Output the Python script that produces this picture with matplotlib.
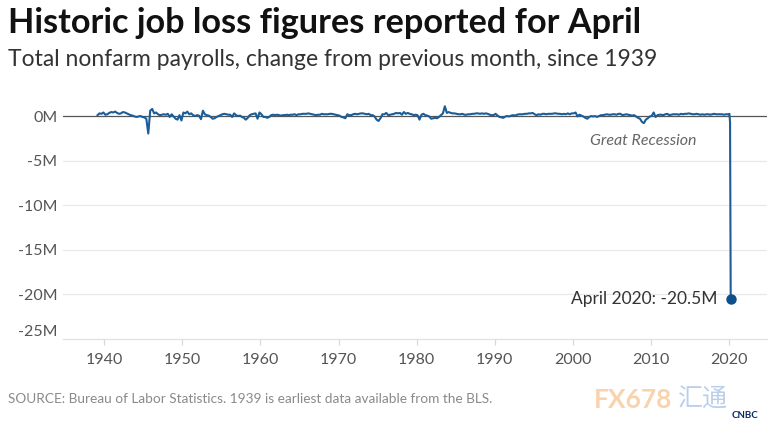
import numpy as np
import matplotlib
matplotlib.use("Agg")
import matplotlib.pyplot as plt

# Monthly change in nonfarm payrolls (thousands)
# one value per quarter, 1939 through 2019
start_year = 1939
quarterly_change = [
    100, 300, 250, 400,      # 1939
    150, 200, 350, 450,
    400, 500, 350, 250,
    300, 450, 400, 300,
    200, 100, 50, -50,
    -100, -50, 0, -100,      # 1944
    -150, -300, -1960, 600,  # 1945
    800, 300, 400, 200,
    100, 150, 200, 150,
    250, -100, 200, -50,
    -300, -400, 100, -500,   # 1949
    400, 300, 500, 200,      # 1950
    300, 100, 0, 100,
    50, -350, 600, 200,
    100, 50, -100, -300,
    -250, -100, 0, 100,
    200, 250, 200, 150,
    150, -100, 300, 100,
    0, 50, -100, -200,
    -400, -200, 100, 200,
    250, 300, -300, 400,     # 1959
    200, -100, -100, -200,   # 1960
    -100, 100, 150, 100,
    150, 100, 50, 100,
    100, 150, 100, 150,
    150, 200, 100, 200,
    200, 250, 250, 250,
    300, 250, 200, 150,
    100, 150, 150, 250,
    200, 200, 200, 250,
    250, 200, 150, 100,      # 1969
    50, -100, -150, -250,    # 1970
    200, 100, 100, 200,
    250, 200, 250, 300,
    300, 250, 200, 250,
    100, 100, -50, -400,
    -550, -250, 200, 200,
    350, 100, 150, 200,
    250, 350, 300, 350,
    150, 450, 250, 350,
    250, 200, 100, 150,      # 1979
    100, -400, 150, 250,     # 1980
    100, 50, -50, -300,
    -250, -200, -250, -100,
    100, 300, 1100, 350,
    450, 350, 300, 300,
    250, 200, 200, 250,
    150, 150, 200, 200,
    250, 250, 300, 300,
    250, 300, 250, 300,
    250, 150, 100, 100,      # 1989
    250, 50, -100, -150,     # 1990
    -200, -50, 0, -50,
    50, 100, 50, 150,
    200, 200, 200, 250,
    250, 300, 300, 350,
    200, 100, 200, 150,
    250, 250, 200, 250,
    250, 250, 300, 300,
    250, 250, 200, 250,
    200, 300, 200, 300,      # 1999
    300, 400, -50, 150,      # 2000
    50, -50, -200, -300,
    -100, 0, -50, 0,
    -100, 0, 100, 100,
    150, 200, 150, 150,
    200, 200, 150, 250,
    250, 100, 150, 200,
    150, 100, 50, 100,
    -50, -200, -300, -650,
    -800, -400, -250, -50,   # 2009
    0, 400, -100, 100,       # 2010
    150, 150, 100, 200,
    250, 100, 150, 200,
    200, 200, 150, 250,
    200, 250, 250, 300,
    250, 200, 200, 250,
    200, 150, 200, 150,
    200, 200, 150, 200,
    250, 200, 200, 200,
    200, 150, 200, 200,      # 2019
]
# Jan-Apr 2020, monthly
months_2020 = [1, 2, 3, 4]
change_2020 = [200, 250, -700, -20500]

yticks = [0, -5, -10, -15, -20, -25]
ytick_labels = ["0M", "-5M", "-10M", "-15M", "-20M", "-25M"]
xticks = [1940, 1950, 1960, 1970, 1980, 1990, 2000, 2010, 2020]

# build time axis
t = [start_year + i * 0.25 + 0.125 for i in range(len(quarterly_change))]
t += [2020 + (m - 1) / 12 for m in months_2020]
vals = np.array(quarterly_change + change_2020) / 1000.0

plt.rcParams["font.family"] = ["Lato", "DejaVu Sans"]

fig = plt.figure(figsize=(7.72, 4.34), dpi=100)
ax = fig.add_axes([63 / 772, (434 - 339) / 434, (767 - 63) / 772, (339 - 100) / 434])

blue = "#1b5d98"
ax.plot(t, vals, color=blue, lw=1.5, zorder=3, solid_joinstyle="round")
ax.plot(t[-1], vals[-1], "o", color="#0d4f8b", ms=6.5, zorder=4)

ax.set_xlim(1934.7, 2024.9)
ax.set_ylim(-25, 1.8)

for y in yticks[1:-1]:
    ax.axhline(y, color="#e8e8e8", lw=0.9, zorder=1)
ax.axhline(0, color="#555555", lw=0.9, zorder=2)

ax.set_yticks(yticks)
ax.set_yticklabels(ytick_labels)
ax.set_xticks(xticks)
ax.tick_params(axis="y", length=0, pad=4, labelsize=11.5, labelcolor="#555555")
ax.tick_params(axis="x", length=4, color="#d8d8d8", width=0.9, pad=6,
               labelsize=11.5, labelcolor="#555555")
# lowest y label sits above the axis line
ax.get_yticklabels()[-1].set_va("bottom")

for side in ["top", "right", "left"]:
    ax.spines[side].set_visible(False)
ax.spines["bottom"].set_color("#e0e0e0")
ax.spines["bottom"].set_linewidth(0.9)

ax.text(2018.6, -20.5, "April 2020: -20.5M", ha="right", va="center",
        fontsize=12.5, color="#333333")
ax.text(2009.0, -2.8, "Great Recession", ha="center", va="center",
        fontsize=11.5, style="italic", color="#666666")

fig.text(8 / 772, 1 - 33 / 434, "Historic job loss figures reported for April",
         fontsize=24.7, fontweight="bold", color="#111111", va="baseline")
fig.text(8 / 772, 1 - 66 / 434,
         "Total nonfarm payrolls, change from previous month, since 1939",
         fontsize=16.5, color="#333333", va="baseline")
fig.text(8 / 772, 1 - 399 / 434,
         "SOURCE: Bureau of Labor Statistics. 1939 is earliest data available from the BLS.",
         fontsize=9.8, color="#8a8a8a", va="center")

# watermark / logo approximations
fig.text(594 / 772, 1 - 400 / 434, "FX678", fontsize=19, fontweight="bold",
         color="#f8c89a", va="center", alpha=0.8)
fig.text(678 / 772, 1 - 400 / 434, "汇通", fontsize=18, color="#a9c4e8",
         va="center", family=["Noto Sans CJK SC", "DejaVu Sans"], alpha=0.8)
fig.text(745 / 772, 1 - 416 / 434, "CNBC", fontsize=7, fontweight="bold",
         color="#0a2a66", ha="center", va="center")

fig.savefig("out.png", dpi=100, facecolor="white")
